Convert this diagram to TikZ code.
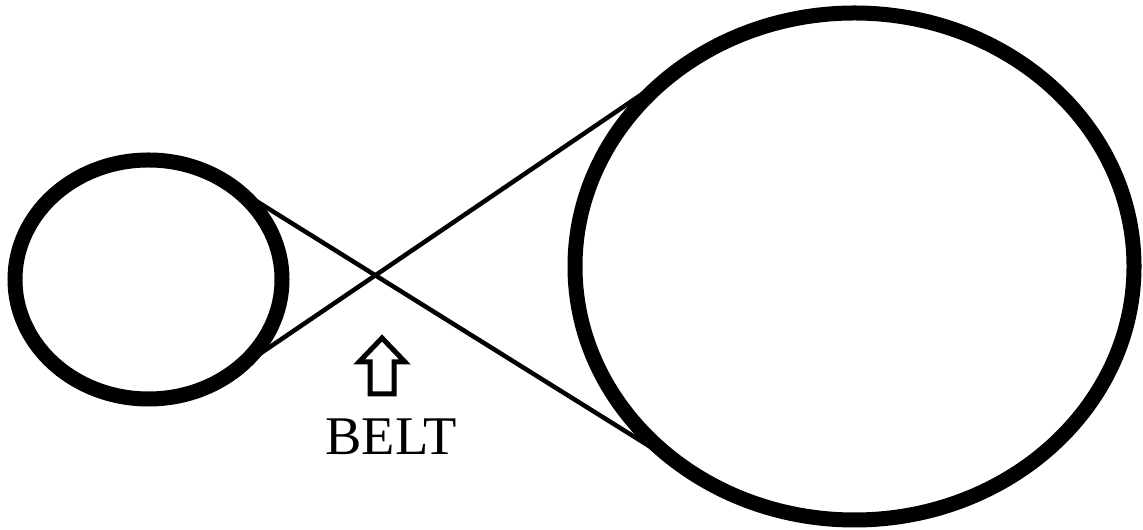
\documentclass[tikz,border=0pt]{standalone}
\usepackage{fontspec}
\setmainfont{Liberation Serif}
\usetikzlibrary{shapes.geometric,positioning}

\begin{document}
\begin{tikzpicture}[
  pulley/.style={draw,ellipse,line width=0.3cm,inner sep=0pt,outer sep=0pt},
  belt/.style={line width=0.09cm},
  hollow/.style={line width=0.1cm,line join=miter}]
  \useasboundingbox (0,0) rectangle (22.86,10.6);
  % the two pulleys
  \node[pulley,minimum width=5.34cm,minimum height=4.78cm] (small) at (2.97,5.01) {};
  \node[pulley,minimum width=11.18cm,minimum height=10.14cm] (big) at (17.09,5.27) {};
  % crossed belt
  \draw[belt] (small.52.1) -- (big.232.8);
  \draw[belt] (small.-51.3) -- (big.130.4);
  % label and its hollow arrow
  \node[anchor=base,inner sep=0pt,font=\fontsize{31}{31}\selectfont] (label) at (7.82,1.5) {BELT};
  \draw[hollow] (7.64,3.84) -- (8.10,3.36) -- (7.88,3.36) -- (7.88,2.72)
    -- (7.40,2.72) -- (7.40,3.36) -- (7.18,3.36) -- cycle;
\end{tikzpicture}
\end{document}
